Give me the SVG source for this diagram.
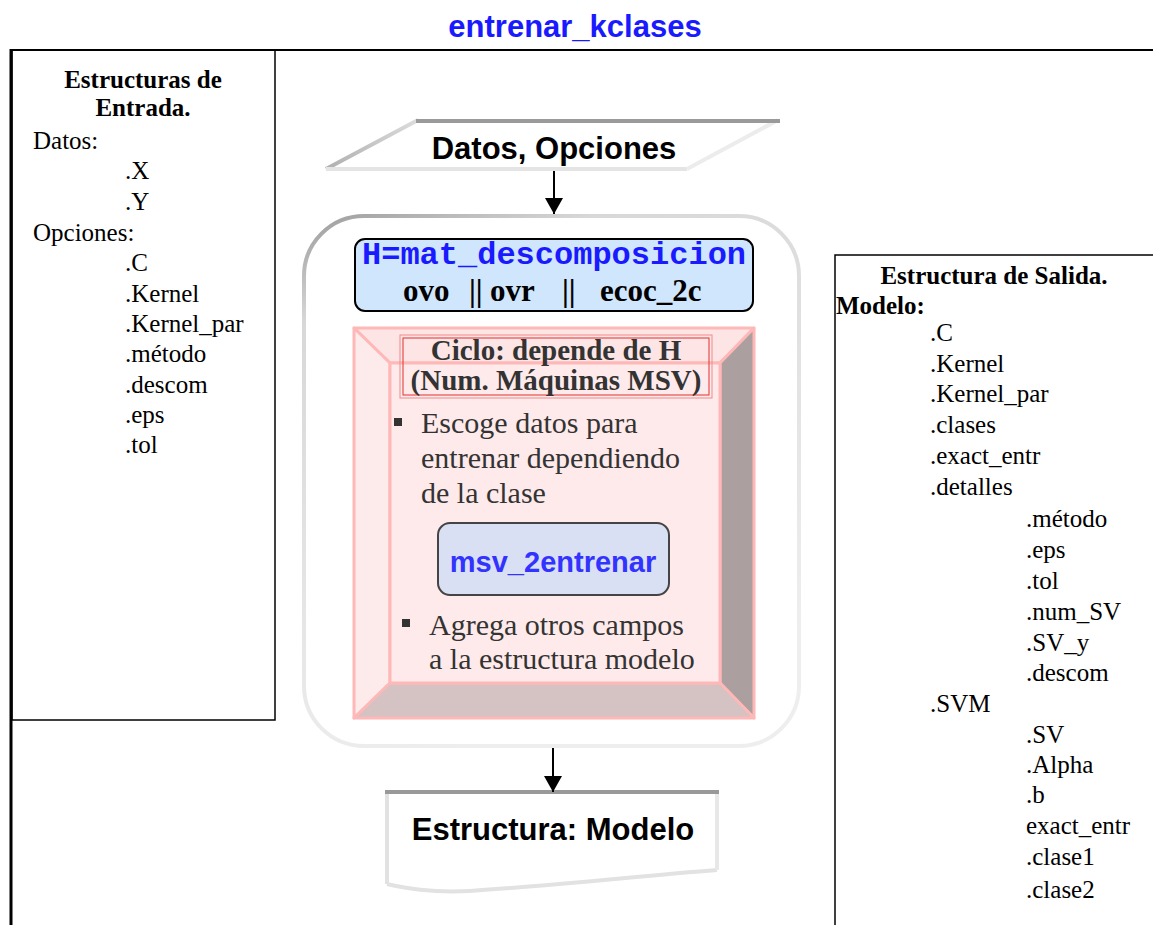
<svg xmlns="http://www.w3.org/2000/svg" width="1153" height="925" viewBox="0 0 1153 925">
  <style>
    .serif { font-family: "Liberation Serif", "Times New Roman", serif; fill: #000; }
    .struct { font-size: 25px; }
    .bold { font-weight: bold; }
    .sans { font-family: "Liberation Sans", Arial, sans-serif; font-weight: bold; }
    .mono { font-family: "Liberation Mono", "Courier New", monospace; font-weight: bold; }
    .dark { fill: #333; }
    .frame { fill: none; stroke: #000; }
    .bevel { stroke: #ffb8b8; stroke-width: 3; stroke-linejoin: round; }
  </style>
  <defs>
    <linearGradient id="rimGrad" x1="0" y1="0" x2="0.35" y2="1">
      <stop offset="0" stop-color="#9c9c9c"/>
      <stop offset="0.18" stop-color="#d8d8d8"/>
      <stop offset="1" stop-color="#eeeeee"/>
    </linearGradient>
    <linearGradient id="slantGrad" x1="0" y1="1" x2="1" y2="0">
      <stop offset="0" stop-color="#b0b0b0"/>
      <stop offset="1" stop-color="#dcdcdc"/>
    </linearGradient>
    <marker id="arrowBig" viewBox="0 0 16 18" refX="16" refY="9" markerWidth="16" markerHeight="18" markerUnits="userSpaceOnUse" orient="auto">
      <path d="M0,0 L16,9 L0,18 z" fill="#000"/>
    </marker>
  </defs>

  <!-- page title -->
  <text id="title" x="575" y="37" text-anchor="middle" class="sans" font-size="31" fill="#1a1aff">entrenar_kclases</text>

  <!-- outer frame lines -->
  <g id="page-frame">
    <line x1="10" y1="50" x2="1153" y2="50" stroke="#000" stroke-width="2"/>
    <line x1="11" y1="49" x2="11" y2="925" stroke="#000" stroke-width="3"/>
  </g>

  <!-- input structures panel -->
  <g id="entrada">
    <rect x="12" y="50" width="263" height="670" class="frame" stroke-width="1.5"/>
    <text class="serif struct bold" x="143" y="88" text-anchor="middle">Estructuras de</text>
    <text class="serif struct bold" x="143" y="116" text-anchor="middle">Entrada.</text>
    <text class="serif struct" x="33" y="149">Datos:</text>
    <text class="serif struct" x="125" y="179">.X</text>
    <text class="serif struct" x="125" y="210">.Y</text>
    <text class="serif struct" x="33" y="241">Opciones:</text>
    <text class="serif struct" x="125" y="271">.C</text>
    <text class="serif struct" x="125" y="302">.Kernel</text>
    <text class="serif struct" x="125" y="332">.Kernel_par</text>
    <text class="serif struct" x="125" y="362">.método</text>
    <text class="serif struct" x="125" y="393">.descom</text>
    <text class="serif struct" x="125" y="423">.eps</text>
    <text class="serif struct" x="125" y="453">.tol</text>
  </g>

  <!-- output structure panel -->
  <g id="salida">
    <rect x="835" y="255" width="340" height="700" class="frame" stroke-width="1.5"/>
    <text class="serif struct bold" x="994" y="284" text-anchor="middle">Estructura de Salida.</text>
    <text class="serif struct bold" x="836" y="314">Modelo:</text>
    <text class="serif struct" x="930" y="341">.C</text>
    <text class="serif struct" x="930" y="372">.Kernel</text>
    <text class="serif struct" x="930" y="402">.Kernel_par</text>
    <text class="serif struct" x="930" y="433">.clases</text>
    <text class="serif struct" x="930" y="464">.exact_entr</text>
    <text class="serif struct" x="930" y="495">.detalles</text>
    <text class="serif struct" x="1026" y="527">.método</text>
    <text class="serif struct" x="1026" y="558">.eps</text>
    <text class="serif struct" x="1026" y="589">.tol</text>
    <text class="serif struct" x="1026" y="620">.num_SV</text>
    <text class="serif struct" x="1026" y="651">.SV_y</text>
    <text class="serif struct" x="1026" y="681">.descom</text>
    <text class="serif struct" x="930" y="712">.SVM</text>
    <text class="serif struct" x="1026" y="743">.SV</text>
    <text class="serif struct" x="1026" y="773">.Alpha</text>
    <text class="serif struct" x="1026" y="803">.b</text>
    <text class="serif struct" x="1026" y="834">exact_entr</text>
    <text class="serif struct" x="1026" y="865">.clase1</text>
    <text class="serif struct" x="1026" y="898">.clase2</text>
  </g>

  <!-- input data (parallelogram) -->
  <g id="datos-opciones">
    <polygon points="418,120 778,120 687,169 326,169" fill="#fff"/>
    <line x1="326" y1="169" x2="418" y2="120" stroke="url(#slantGrad)" stroke-width="4"/>
    <line x1="326" y1="169" x2="687" y2="169" stroke="#e4e4e4" stroke-width="4"/>
    <line x1="687" y1="169" x2="778" y2="120" stroke="#ececec" stroke-width="4"/>
    <line x1="416" y1="121" x2="780" y2="121" stroke="#9a9a9a" stroke-width="4"/>
    <text class="sans" x="554" y="159" text-anchor="middle" font-size="31" fill="#000">Datos, Opciones</text>
  </g>

  <!-- main process container -->
  <g id="proceso">
    <rect x="304" y="216" width="495" height="530" rx="60" ry="60" fill="#fff" stroke="url(#rimGrad)" stroke-width="4"/>

    <g id="descomposicion">
      <rect x="355" y="239" width="398" height="72" rx="10" ry="10" fill="#cfe6fc" stroke="#000" stroke-width="2"/>
      <text class="mono" x="554" y="264" text-anchor="middle" font-size="32" fill="#1a1aff">H=mat_descomposicion</text>
      <g class="serif bold" font-size="31">
        <text x="403" y="301">ovo</text>
        <text x="469" y="301">||</text>
        <text x="490" y="301">ovr</text>
        <text x="562" y="301">||</text>
        <text x="600" y="301">ecoc_2c</text>
      </g>
    </g>

    <g id="ciclo">
      <!-- bevelled frame -->
      <polygon class="bevel" points="354,328 754,328 720,363 390,363" fill="#fde5e5"/>
      <polygon class="bevel" points="354,328 390,363 390,683 354,718" fill="#fdeaea"/>
      <polygon class="bevel" points="754,328 754,718 720,683 720,363" fill="#ac9f9f"/>
      <polygon class="bevel" points="354,718 390,683 720,683 754,718" fill="#d5c2c2"/>
      <rect class="bevel" x="390" y="363" width="330" height="320" fill="#feeaea"/>

      <!-- loop heading -->
      <rect x="400" y="335" width="312" height="63" fill="none" stroke="#f08a8a" stroke-width="1"/>
      <rect x="403" y="338" width="306" height="57" fill="none" stroke="#e03030" stroke-width="1"/>
      <text class="serif bold dark" x="556" y="360" text-anchor="middle" font-size="29">Ciclo: depende de H</text>
      <text class="serif bold dark" x="556" y="390" text-anchor="middle" font-size="29">(Num. Máquinas MSV)</text>

      <!-- first bullet -->
      <rect x="394" y="418" width="8" height="8" fill="#333"/>
      <g class="serif dark" font-size="30">
        <text x="421" y="433">Escoge datos para</text>
        <text x="421" y="468">entrenar dependiendo</text>
        <text x="421" y="503">de la clase</text>
      </g>

      <g id="msv-2entrenar">
        <rect x="438" y="523" width="231" height="72" rx="12" ry="12" fill="#d9e0f3" stroke="#444" stroke-width="2"/>
        <text class="sans" x="553" y="572" text-anchor="middle" font-size="29" fill="#3333ff">msv_2entrenar</text>
      </g>

      <!-- second bullet -->
      <rect x="402" y="619" width="8" height="8" fill="#333"/>
      <g class="serif dark" font-size="30">
        <text x="429" y="635">Agrega otros campos</text>
        <text x="429" y="669">a la estructura modelo</text>
      </g>
    </g>
  </g>

  <!-- output document -->
  <g id="estructura-modelo">
    <path d="M387,792 L717,792 L717,870 C640,876 560,885 470,891 C430,893 405,888 387,884 Z" fill="#fff"/>
    <path d="M387,884 C405,888 430,893 470,891 C560,885 640,876 717,870" fill="none" stroke="#e2e2e2" stroke-width="4"/>
    <line x1="387" y1="792" x2="387" y2="884" stroke="#e2e2e2" stroke-width="4"/>
    <line x1="717" y1="792" x2="717" y2="870" stroke="#e8e8e8" stroke-width="4"/>
    <line x1="385" y1="792" x2="719" y2="792" stroke="#999" stroke-width="4"/>
    <text class="sans" x="553" y="840" text-anchor="middle" font-size="31" fill="#000">Estructura: Modelo</text>
  </g>

  <!-- connectors -->
  <g id="connectors" stroke="#000" stroke-width="2" fill="none">
    <line x1="554" y1="171" x2="554" y2="214" marker-end="url(#arrowBig)"/>
    <line x1="553" y1="748" x2="553" y2="792" marker-end="url(#arrowBig)"/>
  </g>
</svg>
